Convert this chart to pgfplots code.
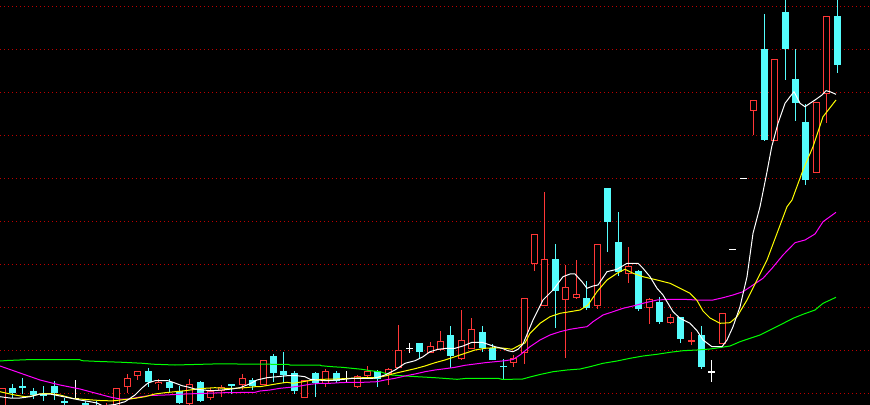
\documentclass[border=0pt]{standalone}
\usepackage{pgfplots}
\pgfplotsset{compat=1.18}
\usepackage{pgfplotstable}
\definecolor{candred}{RGB}{255,55,55}
\definecolor{candcyan}{RGB}{84,252,252}
\definecolor{gridred}{RGB}{190,0,0}
\definecolor{mayellow}{RGB}{255,255,0}
\definecolor{mamagenta}{RGB}{255,0,255}
\definecolor{magreen}{RGB}{0,255,0}

\pgfplotstableread{
k o c h l
0 415 388 388 420
10 415 409 403 418
11 415 388 388 415
12 387 378 374 393
13 375.5 371 371 380
15 384 381.5 379 390
18 403.5 384 379 405
20 397.5 391 388 400
21 391 386.5 385 396.5
23 384.5 378 374 390
25 384.5 360 360 385
29 397.5 380 380 398
31 384 371 369 387
34 386.5 375.5 375 387.5
35 375.5 371 366 378
37 374 369 367.5 385
38 367.5 350 325 368
41 352.5 345.5 342 353
42 350 341 331 351
44 358.5 339.5 310 360
45 348.5 328.5 318 349
49 363.3 358.3 355 367
50 352.5 298.5 298.5 364
51 264.5 234.5 234.5 271.5
52 305.5 259.5 192.5 306
54 300.5 287.5 265 357.5
55 298.3 294.3 260 299
57 305.5 244.5 244.5 309
60 274.5 266 247.5 282.5
62 307.5 298.5 298.5 324
64 322.5 317 314 324
66 341.5 339.5 331.5 344.5
69 343.5 313.5 313.5 343.5
72 111.5 100 100 135
74 141.5 59.5 59.5 141.5
78 173.5 102.5 102.5 173.5
79 94.5 16 16 123.5
}\redtab

\pgfplotstableread{
k o c h l
1 388 393 384 397.5
2 386 387 378 394
3 391 395 388 399
4 394 395 386 401
5 386 392.5 381 400
6 401 402 398 408
8 403 412 401 414
9 408 412 401 414
14 371 382 368 386.5
16 382 388 379 392
17 391 402.5 385.5 404
19 382 400.5 381 402
22 384 385.5 384 394
24 380 385.5 377.5 390
26 356 372.5 354 382
27 371 375 351.5 383
28 373 390.5 371 394
30 372.5 382.5 372 397
32 372.5 380.5 370.5 383
36 371 379 370 387
40 342.5 351.5 342.5 357.5
43 335 355.5 326 368
46 332 347.5 326 351.5
47 347.5 360 344 360
48 365.5 366.5 358.5 379
53 259.5 291.5 244 327.5
56 298.5 308.5 281 310.5
58 188.5 222.5 188 252.5
59 242 272.5 212.5 276.5
61 271.5 309 270 310.5
63 302 321.5 296.5 324
65 317 338.5 317 342.5
67 335 366.5 326 368.5
73 49 140.5 14 141
75 12.5 49 -5 80.5
76 79 103.5 49 121.5
77 122 180 104.5 185.5
80 16 65.5 -5 73.5
}\cyantab

\pgfplotstableread{
k o c h l
7 398 398 380 398.3
33 378 378 370.7 381.7
39 348.3 348.3 343.3 353.3
68 371.5 371.5 360 381.5
70 249.3 249.3 249.3 249.3
71 178.3 178.3 178.3 178.3
}\whitetab

\pgfplotsset{
  wickstyle/.style={draw=none, mark=none, forget plot,
    error bars/.cd, y dir=both, y explicit, error mark=none,
    error bar style={draw=#1, solid, line width=0.5pt}},
  bodystyle/.style 2 args={draw=none, mark=none, forget plot,
    error bars/.cd, y dir=both, y explicit, error mark=none,
    error bar style={draw=#1, solid, line width=#2}},
}

\begin{document}
\begin{tikzpicture}
\begin{axis}[
  width=435pt, height=202.5pt, scale only axis,
  xmin=0, xmax=870, ymin=0, ymax=405, y dir=reverse,
  axis background/.style={fill=black},
  axis line style={draw=none},
  tick style={draw=none},
  xtick=\empty,
  ytick={6.3,49.3,92.3,135.3,178.3,221.3,264.3,307.3,350.3,393.3},
  yticklabels={},
  ymajorgrids,
  major grid style={draw=gridred, line width=0.5pt, dash pattern=on 0.5pt off 1.5pt},
]
% wicks
\addplot[wickstyle=candred] table[x expr=2.06+10.44*\thisrow{k}, y expr=(\thisrow{h}+\thisrow{l})/2, y error expr=(\thisrow{l}-\thisrow{h})/2] {\redtab};
\addplot[wickstyle=candcyan] table[x expr=2.06+10.44*\thisrow{k}, y expr=(\thisrow{h}+\thisrow{l})/2, y error expr=(\thisrow{l}-\thisrow{h})/2] {\cyantab};
\addplot[wickstyle=white] table[x expr=2.06+10.44*\thisrow{k}, y expr=(\thisrow{h}+\thisrow{l})/2, y error expr=(\thisrow{l}-\thisrow{h})/2] {\whitetab};
% bodies
\addplot[bodystyle={candred}{3.5pt}] table[x expr=2.06+10.44*\thisrow{k}, y expr=(\thisrow{o}+\thisrow{c})/2, y error expr=abs(\thisrow{o}-\thisrow{c})/2] {\redtab};
\addplot[bodystyle={black}{2.5pt}] table[x expr=2.06+10.44*\thisrow{k}, y expr=(\thisrow{o}+\thisrow{c})/2, y error expr={max(abs(\thisrow{o}-\thisrow{c})/2-1,0)}] {\redtab};
\addplot[bodystyle={candcyan}{3.5pt}] table[x expr=2.06+10.44*\thisrow{k}, y expr=(\thisrow{o}+\thisrow{c})/2, y error expr={max(abs(\thisrow{o}-\thisrow{c})/2,0.5)}] {\cyantab};
\addplot[bodystyle={white}{3.5pt}] table[x expr=2.06+10.44*\thisrow{k}, y expr=(\thisrow{o}+\thisrow{c})/2, y error expr=0.5] {\whitetab};

% MA60 green
\addplot[magreen, line width=0.5pt] coordinates {
(0,361) (7,360.5) (27,359.7) (80,359.7) (82,360.7) (100,361.5) (123,362.3) (143,363.3) (153,364.2) (175,365) (205,364.2) (220,363.8) (255,364.2) (288,364.3) (290,365) (320,365) (321,365.7) (332,366.7) (342,367.3) (352,368.3) (362,369.3) (370,370.7) (380,371.7) (385,373.3) (392,375) (405,376) (435,377.7) (457,379.3) (467,378.3) (498,378.3) (502,379.3) (522,379.2) (530,377) (540,374.5) (553,371.7) (567,370) (580,369) (590,366.7) (603,363.3) (617,361) (630,358.3) (643,356) (657,354.3) (670,352.3) (683,350.7) (697,350) (710,349) (715,348.3) (730,346) (740,341.7) (750,338.3) (760,335) (770,330) (780,325) (793,318.3) (803,314.3) (815,310) (823,303.3) (836,297.3)
};
% MA20 magenta
\addplot[mamagenta, line width=0.5pt] coordinates {
(0,366) (20,373) (40,380) (60,385) (80,389) (95,393) (110,397) (120,399) (130,399) (140,397) (150,395.5) (165,395) (185,394) (205,393.3) (225,392.7) (255,392.3) (260,391) (270,390) (280,388.3) (290,387.3) (300,386) (310,384.3) (320,383.3) (330,383.3) (340,382.7) (350,382.3) (363,382.3) (377,381.7) (385,380) (395,378.3) (405,376) (415,374) (425,371.7) (435,370) (445,368.7) (455,367.3) (465,365.3) (475,364) (485,362.7) (495,361.7) (505,360.7) (513,359.5) (520,355) (530,346.7) (540,340) (550,335) (560,331.7) (570,329.3) (580,327.7) (587,326.7) (593,321.7) (603,315) (613,311.7) (623,308.3) (633,306) (643,303.3) (657,300) (670,299.3) (683,299.3) (697,300) (713,300) (723,297.7) (733,295) (743,291.7) (753,285) (763,278.3) (772,268.3) (783,255) (795,242.7) (805,240) (815,234) (823,221.7) (836,212.3)
};
% MA10 yellow
\addplot[mayellow, line width=0.5pt] coordinates {
(0,391.7) (7,393.3) (15,395) (25,396.7) (32,396) (40,393.8) (50,393.5) (60,395) (73,398.5) (83,399.3) (93,400) (103,400.7) (113,400.8) (125,399.5) (135,398.3) (145,396.7) (155,394) (165,392.7) (175,391.7) (185,390.7) (195,389.3) (205,388.3) (215,387.7) (225,388.3) (235,388.3) (245,387.7) (255,386.7) (260,386.7) (270,385) (280,383.3) (287,382.3) (293,383.3) (303,381.7) (313,380) (323,379.3) (337,379) (350,378.3) (363,377.7) (377,377.7) (385,376) (395,373.3) (405,371) (415,368.7) (425,366) (435,362.7) (445,360) (455,356.7) (465,353.3) (475,350) (485,348.3) (495,347.7) (505,348.3) (512,349.3) (520,345) (525,343) (530,333.3) (540,323.3) (550,316.7) (560,313.3) (570,311.7) (580,310) (588,305) (597,291.7) (607,280) (617,273.3) (625,269.3) (633,273.3) (643,276.7) (657,280) (670,283.3) (680,288.3) (690,293.3) (697,300.5) (703,311) (710,318) (720,323.3) (730,322.7) (737,316.7) (747,300) (757,280) (767,260) (777,233.3) (787,206.7) (792,200) (803,170) (813,146.7) (823,116.7) (836,100)
};
% MA5 white
\addplot[white, line width=0.5pt] coordinates {
(0,396.7) (10,398) (20,398) (30,396.7) (40,394) (50,394) (60,396) (70,398) (80,400) (90,401.7) (97,403) (103,406) (115,404.5) (125,401.7) (135,395) (142,388) (148,383) (155,380.7) (168,380.7) (175,383) (182,385.7) (188,387) (195,389) (203,390) (212,390.7) (222,390) (232,389) (240,387.7) (250,383.8) (257,380) (267,377.7) (277,376.7) (287,375.7) (297,375.7) (305,376.7) (310,379.3) (317,380) (327,380.7) (337,380) (347,379) (353,378.3) (363,378.3) (373,378.3) (380,376.7) (385,375) (395,370) (405,363.3) (415,360.7) (423,356.7) (430,351.7) (438,349.3) (447,348.3) (455,348.3) (463,346) (472,342.3) (482,342.3) (488,344.3) (495,346.7) (502,348.3) (508,350.7) (513,351.7) (518,349.3) (523,344) (533,320) (543,300) (553,290) (563,276.7) (570,274) (575,274) (582,281.7) (587,288.3) (593,286) (598,285) (607,271.7) (617,269.3) (627,263.3) (638,263.3) (643,268.3) (650,276.7) (657,288.3) (663,295) (673,311.7) (680,318.3) (690,323.3) (697,330.7) (703,340) (712,346.7) (722,346.7) (727,340) (733,326.7) (740,306.7) (747,276.7) (753,233.3) (760,206.7) (766.7,173.3) (771.7,146.7) (778,123.3) (785,103.3) (790,96.7) (794,91.7) (800,103.3) (805,106.7) (810,103.3) (815,100) (822,95) (826,90.7) (830,91.7) (836,94.3)
};
\end{axis}
\pgfresetboundingbox
\useasboundingbox (current axis.south west) rectangle (current axis.north east);
\end{tikzpicture}
\end{document}
